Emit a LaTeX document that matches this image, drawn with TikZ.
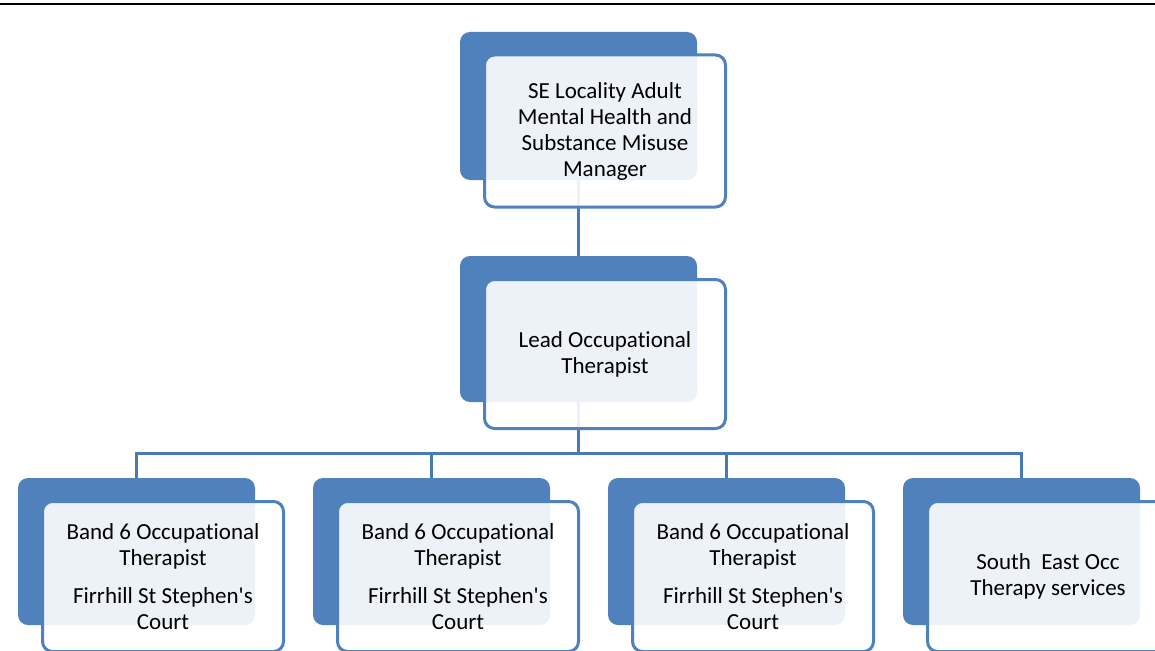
\documentclass[tikz,border=0pt]{standalone}
\usepackage{fontspec}
\setmainfont{Carlito}[Ligatures={NoCommon}]
\newfontfamily\plainquote{Carlito}[Ligatures={ResetAll}]
\usetikzlibrary{backgrounds}
\definecolor{orgblue}{RGB}{79, 129, 189}
\definecolor{linkblue}{RGB}{74, 122, 182}

\begin{document}
\begin{tikzpicture}[x=1pt, y=-1pt,
        backbox/.style={fill=orgblue, rounded corners=10pt, minimum width=237pt, minimum height=147pt, inner sep=0pt},
        frontbox/.style={draw=orgblue, line width=3pt, fill=white, fill opacity=0.9, text opacity=1, rounded corners=10pt,
            minimum width=241pt, minimum height=150pt, inner sep=0pt, align=center, font=\fontsize{23}{26}\selectfont,
            xshift=26.5pt, yshift=-25pt},
        link/.style={color=linkblue, line width=3pt}]
            \useasboundingbox (0,0) rectangle (1155,650);
            % Rule at the top
            \draw[line width=2pt] (0,4) -- (1155,4);
            % Manager
            \node[backbox, minimum height=148pt] (mgrback) at (578.5,106) {};
            \node[frontbox, minimum height=152pt] (mgr) at (mgrback.center) {SE Locality Adult\\Mental Health and\\Substance Misuse\\Manager};
            % Lead OT
            \node[backbox, minimum height=146pt] (leadback) at (578.5,329) {};
            \node[frontbox, minimum height=149pt] (lead) at (leadback.center) {Lead Occupational\\Therapist};
            % Band 6 OTs
            \foreach \i/\x in {1/136.5, 2/431.5, 3/726.5} {
                \node[backbox] (ot\i back) at (\x,551.5) {};
                \node[frontbox] (ot\i) at (ot\i back.center) {Band 6 Occupational\\Therapist\\[12pt]Firrhill St Stephen{\plainquote\textquotesingle}s\\Court};
            }
            % Services
            \node[backbox] (servback) at (1021.5,551.5) {};
            \node[frontbox] (serv) at (servback.center) {South\ \ East Occ\\Therapy services};
            % Connectors
            \coordinate (bus) at (0,453);
            \begin{scope}[on background layer]
                \draw[link] (mgrback.south) -- (leadback.north);
                \foreach \n in {ot1back, ot2back, ot3back, servback}
                    \draw[link] (leadback.south) -- (leadback.south |- bus) -| (\n.north);
            \end{scope}
        \end{tikzpicture}
\end{document}
